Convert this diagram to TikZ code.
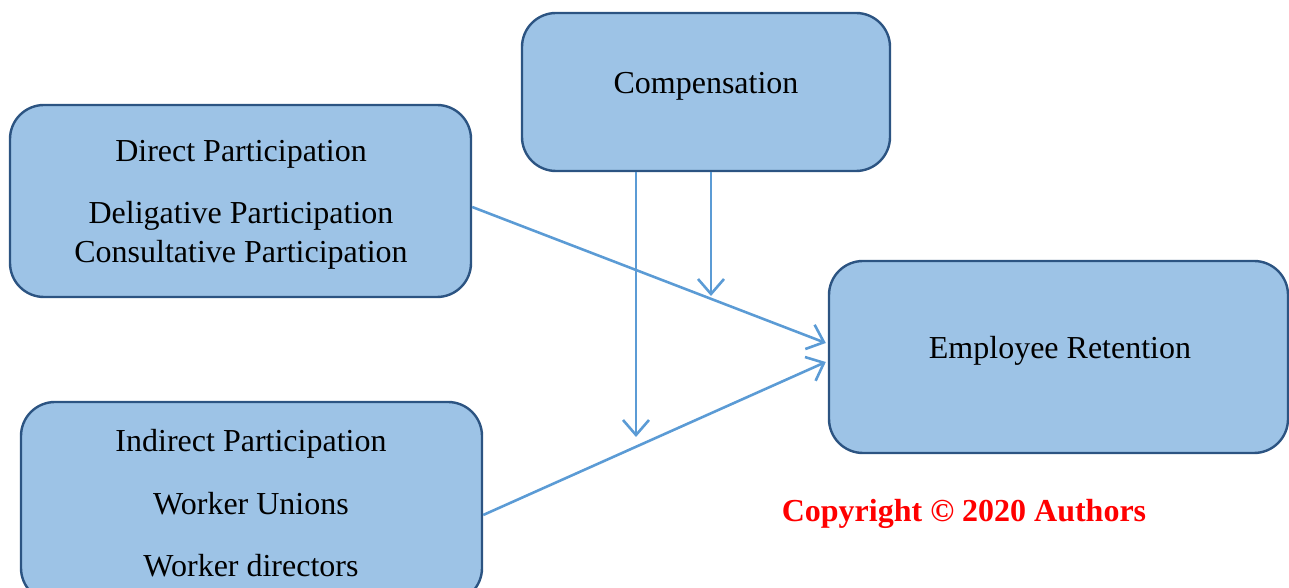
\documentclass[tikz,border=0pt]{standalone}
\usepackage{fontspec}
\setmainfont{Liberation Serif}
\usetikzlibrary{arrows.meta,calc}
\definecolor{boxfill}{RGB}{157,195,230}
\definecolor{boxline}{RGB}{44,84,130}
\definecolor{arrowc}{RGB}{91,155,213}
\begin{document}
\begin{tikzpicture}[x=1pt,y=1pt,
  boxnode/.style={draw=boxline,fill=boxfill,line width=2.4pt,rounded corners=34pt,inner sep=0pt},
  txt/.style={font=\fontsize{32}{38}\selectfont,inner sep=0pt,anchor=center},
  conn/.style={draw=arrowc,line width=2.6pt,-{Straight Barb[length=15pt,width=26pt,line width=2.6pt]}}
]
\useasboundingbox (0,0) rectangle (1289,588);
\node[boxnode,minimum width=368pt,minimum height=158pt] (comp) at (706,496) {};
\node[boxnode,minimum width=461pt,minimum height=192pt] (direct) at (240.5,387) {};
\node[boxnode,minimum width=461pt,minimum height=200pt] (indirect) at (251.5,86) {};
\node[boxnode,minimum width=459pt,minimum height=192pt] (emp) at (1058.5,231) {};

\node[txt] (tcomp) at (706,502) {Compensation};
\node[txt] (td1) at (241,434) {Direct Participation};
\node[txt] (td2) at (241,372) {Deligative Participation};
\node[txt] (td3) at (241,333) {Consultative Participation};
\node[txt] (ti1) at (251,144) {Indirect Participation};
\node[txt] (ti2) at (251,84) {Worker Unions};
\node[txt] (ti3) at (251,22) {Worker directors};
\node[txt] (temp) at (1060,237) {Employee Retention};
\node[txt,font=\fontsize{32}{38}\selectfont\bfseries,text=red] (copy) at (964,74) {Copyright © 2020 Authors};

\coordinate (c1end) at (636,151);
\coordinate (c2end) at (711,292);
\draw[conn] ($(direct.east)+(0,-6)$) -- ($(emp.west)+(-2,14)$);
\draw[conn] ($(indirect.east)+(0,-13)$) -- ($(emp.west)+(-2,-5)$);
\draw[conn] ($(comp.south)+(-70,0)$) -- (c1end);
\draw[conn] ($(comp.south)+(5,0)$) -- (c2end);
\end{tikzpicture}
\end{document}
